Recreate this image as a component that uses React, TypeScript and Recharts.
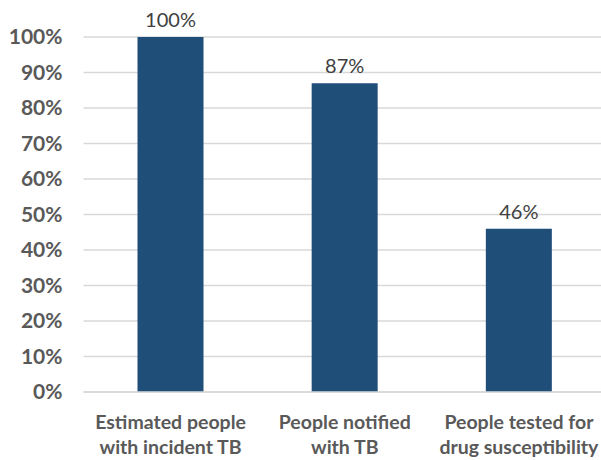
import React from "react";
import { BarChart, Bar, XAxis, YAxis, CartesianGrid, LabelList } from "recharts";

const categories = ["Estimated people|with incident TB", "People notified|with TB", "People tested for|drug susceptibility"];
const values = [100, 87, 46];
const yTicks = [0, 10, 20, 30, 40, 50, 60, 70, 80, 90, 100];

const data = categories.map((c, i) => ({ name: c, value: values[i] }));

const FONT = "Lato, 'Open Sans', sans-serif";

const XTick = (props: any) => {
  const { x, y, payload } = props;
  const lines = String(payload.value).split("|");
  return (
    <g transform={`translate(${x},${y})`}>
      {lines.map((l, i) => (
        <text key={i} x={0} y={i * 25} dy={29} textAnchor="middle" fill="#595959"
          fontFamily={FONT} fontWeight={700} fontSize={19.5}>
          {l}
        </text>
      ))}
    </g>
  );
};

export default function App() {
  return (
    <div style={{ position: "fixed", left: 0, top: 0, width: 601, height: 460, overflow: "hidden", background: "#fff" }}>
      <BarChart width={606} height={460} data={data} margin={{ top: 37, right: 0, bottom: 0, left: 0 }}>
        <CartesianGrid vertical={false} stroke="#d9d9d9" strokeWidth={1.5} />
        <XAxis dataKey="name" axisLine={{ stroke: "#d9d9d9", strokeWidth: 1.5 }} tickLine={false}
          tick={<XTick />} height={68} interval={0} />
        <YAxis domain={[0, 100]} ticks={yTicks} width={83.5} axisLine={false} tickLine={false}
          tickSize={0} tickMargin={21}
          tickFormatter={(v: number) => `${v}%`}
          tick={{ fill: "#595959", fontFamily: FONT, fontWeight: 700, fontSize: 21 }} />
        <Bar dataKey="value" fill="#1f4e79" barSize={66} isAnimationActive={false}>
          <LabelList dataKey="value" position="top" offset={10}
            formatter={(v: number) => `${v}%`}
            style={{ fill: "#404040", fontFamily: FONT, fontSize: 20 }} />
        </Bar>
      </BarChart>
    </div>
  );
}
